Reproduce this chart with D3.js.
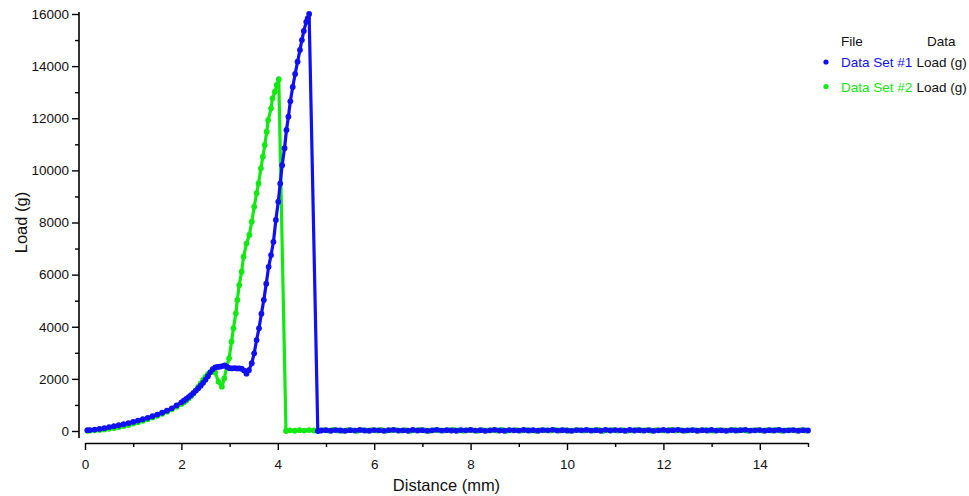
<!DOCTYPE html>
<meta charset="utf-8">
<script src="https://d3js.org/d3.v7.min.js"></script>
<style>
  body { margin: 0; background: #fff; }
  text { font-family: "Liberation Sans", Arial, sans-serif; }
</style>
<div id="my_dataviz"></div>
<script>
  // Data Set #1 (blue): [distance (mm), load (g)]
  var set1 = [
    [0.05,30],[0.1,35],[0.2,55],[0.3,80],[0.4,110],[0.5,150],[0.6,185],[0.7,220],[0.8,260],[0.9,305],
    [1.0,350],[1.1,400],[1.2,450],[1.3,505],[1.4,565],[1.5,630],[1.6,700],[1.7,780],[1.8,870],[1.9,980],
    [2.0,1100],[2.05,1160],[2.1,1230],[2.15,1300],[2.2,1380],[2.25,1460],[2.3,1550],[2.35,1640],[2.4,1740],
    [2.45,1850],[2.5,1970],[2.55,2100],[2.6,2250],[2.65,2370],[2.7,2440],[2.75,2460],[2.8,2470],[2.85,2490],
    [2.9,2520],[2.95,2460],[3.0,2410],[3.05,2400],[3.1,2410],[3.15,2400],[3.2,2400],[3.25,2390],[3.3,2320],
    [3.35,2200],[3.4,2330],[3.46,2600],[3.51,2980],[3.56,3490],[3.61,3940],[3.66,4500],[3.71,5030],[3.76,5650],
    [3.81,6300],[3.86,6750],[3.91,7260],[3.96,8100],[4.01,8800],[4.05,9500],[4.09,10200],[4.14,10850],
    [4.18,11550],[4.22,12060],[4.26,12650],[4.31,13200],[4.36,13700],[4.41,14170],[4.46,14620],[4.5,15000],
    [4.54,15350],[4.59,15700],[4.62,15830],[4.65,16000],
    [4.83,0],[4.9,20],[5.0,30],[5.1,10],[5.2,35],[5.3,20],[5.4,5],[5.5,30],[5.6,15],[5.7,40],[5.8,20],[5.9,10],
    [6.0,35],[6.1,25],[6.2,5],[6.3,30],[6.4,45],[6.5,15],[6.6,25],[6.7,10],[6.8,40],[6.9,20],[7.0,30],[7.1,5],
    [7.2,25],[7.3,45],[7.4,15],[7.5,30],[7.6,20],[7.7,10],[7.8,35],[7.9,25],[8.0,40],[8.1,15],[8.2,30],[8.3,5],
    [8.4,25],[8.5,45],[8.6,20],[8.7,10],[8.8,35],[8.9,25],[9.0,15],[9.1,40],[9.2,20],[9.3,30],[9.4,10],[9.5,35],
    [9.6,25],[9.7,45],[9.8,15],[9.9,30],[10.0,20],[10.1,5],[10.2,35],[10.3,25],[10.4,40],[10.5,15],[10.6,30],
    [10.7,10],[10.8,45],[10.9,20],[11.0,35],[11.1,25],[11.2,10],[11.3,40],[11.4,20],[11.5,30],[11.6,15],[11.7,35],
    [11.8,5],[11.9,25],[12.0,40],[12.1,20],[12.2,30],[12.3,45],[12.4,15],[12.5,25],[12.6,35],[12.7,10],[12.8,30],
    [12.9,20],[13.0,40],[13.1,15],[13.2,25],[13.3,5],[13.4,35],[13.5,20],[13.6,30],[13.7,45],[13.8,15],[13.9,25],
    [14.0,35],[14.1,10],[14.2,30],[14.3,20],[14.4,40],[14.5,15],[14.6,25],[14.7,35],[14.8,10],[14.9,30],[15.0,20]
  ];

  // Data Set #2 (green): [distance (mm), load (g)]
  var set2 = [
    [0.05,10],[0.1,15],[0.2,25],[0.3,40],[0.4,60],[0.5,85],[0.6,115],[0.7,150],[0.8,190],[0.9,235],
    [1.0,285],[1.1,335],[1.2,390],[1.3,450],[1.4,515],[1.5,585],[1.6,660],[1.7,740],[1.8,830],[1.9,930],
    [2.0,1040],[2.05,1100],[2.1,1170],[2.15,1250],[2.2,1340],[2.25,1440],[2.3,1560],[2.35,1690],[2.4,1830],
    [2.45,1960],[2.5,2080],[2.55,2180],[2.6,2260],[2.65,2320],[2.7,2250],[2.77,1890],[2.84,1700],[2.89,2020],
    [2.94,2470],[2.99,2790],[3.04,3430],[3.08,3940],[3.13,4515],[3.16,5030],[3.2,5600],[3.25,6110],[3.29,6690],
    [3.35,7190],[3.41,7520],[3.46,8030],[3.51,8605],[3.56,9120],[3.6,9500],[3.65,10080],[3.69,10525],
    [3.73,10975],[3.77,11485],[3.8,11930],[3.86,12380],[3.89,12765],[3.94,13020],[3.98,13275],[4.02,13500],
    [4.17,0],[4.25,25],[4.35,10],[4.45,30],[4.55,15],[4.65,35],[4.75,20],[4.85,5],[4.95,30],[5.05,15],[5.15,40],
    [5.25,20],[5.35,10],[5.45,30],[5.55,25],[5.65,5],[5.75,35],[5.85,15],[5.95,30],[6.05,20],[6.15,40],[6.25,10],
    [6.35,25],[6.45,35],[6.55,15],[6.65,30],[6.75,5],[6.85,25],[6.95,40],[7.05,20],[7.15,10],[7.25,35],[7.35,25],
    [7.45,15],[7.55,30],[7.65,45],[7.75,20],[7.85,10],[7.95,30],[8.05,25],[8.15,5],[8.25,35],[8.35,15],[8.45,30],
    [8.55,20],[8.65,40],[8.75,10],[8.85,25],[8.95,35],[9.05,15],[9.15,30],[9.25,20],[9.35,5],[9.45,35],[9.55,25],
    [9.65,15],[9.75,40],[9.85,20],[9.95,30],[10.05,10],[10.15,25],[10.25,35],[10.35,15],[10.45,30],[10.55,20],
    [10.65,45],[10.75,10],[10.85,25],[10.95,35],[11.05,15],[11.15,30],[11.25,5],[11.35,25],[11.45,40],[11.55,20],
    [11.65,30],[11.75,10],[11.85,35],[11.95,25],[12.05,15],[12.15,40],[12.25,20],[12.35,30],[12.45,10],[12.55,25],
    [12.65,35],[12.75,15],[12.85,30],[12.95,20],[13.05,5],[13.15,35],[13.25,25],[13.35,15],[13.45,40],[13.55,20],
    [13.65,30],[13.75,10],[13.85,25],[13.95,35],[14.05,15],[14.15,30],[14.25,20],[14.35,40],[14.45,10],[14.55,25],
    [14.65,35],[14.75,15],[14.85,30],[14.95,20]
  ];

  var xTicks = [0, 2, 4, 6, 8, 10, 12, 14];
  var xMinorTicks = [1, 3, 5, 7, 9, 11, 13, 15];
  var yTicks = [0, 2000, 4000, 6000, 8000, 10000, 12000, 14000, 16000];
  var yMinorTicks = [1000, 3000, 5000, 7000, 9000, 11000, 13000, 15000];
  var seriesNames = ["Data Set #1", "Data Set #2"];
  var seriesData = ["Load (g)", "Load (g)"];
  var seriesColors = ["#1010f2", "#12e812"];

  var W = 969, H = 496;
  var svg = d3.select("#my_dataviz").append("svg").attr("width", W).attr("height", H);

  var x = d3.scaleLinear().domain([0, 15]).range([85, 808]);
  var y = d3.scaleLinear().domain([0, 16000]).range([431, 14]);

  // X axis (bottom, detached from the y axis)
  var xg = svg.append("g").attr("transform", "translate(0,443)")
    .call(d3.axisBottom(x).tickValues(xTicks).tickSize(7).tickPadding(9).tickSizeOuter(0).tickFormat(d3.format("d")));
  svg.append("g").attr("transform", "translate(0,443)")
    .call(d3.axisBottom(x).tickValues(xMinorTicks).tickSize(4).tickSizeOuter(0).tickFormat(""))
    .select(".domain").remove();

  // Y axis
  var yg = svg.append("g").attr("transform", "translate(79,0)")
    .call(d3.axisLeft(y).tickValues(yTicks).tickSize(7).tickPadding(3).tickSizeOuter(0).tickFormat(d3.format("d")));
  yg.select(".domain").remove();
  svg.append("g").attr("transform", "translate(79,0)")
    .call(d3.axisLeft(y).tickValues(yMinorTicks).tickSize(4).tickSizeOuter(0).tickFormat(""))
    .select(".domain").remove();
  svg.append("line").attr("x1", 79).attr("x2", 79).attr("y1", 12).attr("y2", 438)
    .attr("stroke", "#000").attr("stroke-width", 1.6);

  svg.selectAll(".tick line").attr("stroke", "#000").attr("stroke-width", 1.4);
  xg.select(".domain").attr("stroke", "#000").attr("stroke-width", 1.6);
  svg.selectAll(".tick text").style("font-size", "13.5px").attr("fill", "#111")
    .style("font-family", "'Liberation Sans', Arial, sans-serif");

  // Axis titles
  svg.append("text").attr("x", 446.5).attr("y", 491).attr("text-anchor", "middle")
    .style("font-size", "16.5px").attr("fill", "#111").text("Distance (mm)");
  svg.append("text").attr("transform", "translate(27,222.5) rotate(-90)").attr("text-anchor", "middle")
    .style("font-size", "16.5px").attr("fill", "#111").text("Load (g)");

  // Series: draw #2 first so #1 sits on top
  var line = d3.line().x(function(d) { return x(d[0]); }).y(function(d) { return y(d[1]); });
  var all = [set1, set2];
  [1, 0].forEach(function(i) {
    var g = svg.append("g");
    g.append("path").datum(all[i]).attr("d", line)
      .attr("fill", "none").attr("stroke", seriesColors[i]).attr("stroke-width", 3.2)
      .attr("stroke-linejoin", "round");
    g.selectAll("circle").data(all[i]).enter().append("circle")
      .attr("cx", function(d) { return x(d[0]); })
      .attr("cy", function(d) { return y(d[1]); })
      .attr("r", 2.9).attr("fill", seriesColors[i]);
  });

  // Legend
  var lg = svg.append("g").style("font-size", "13.5px");
  lg.append("text").attr("x", 841).attr("y", 46).attr("fill", "#111").text("File");
  lg.append("text").attr("x", 927).attr("y", 46).attr("fill", "#111").text("Data");
  seriesNames.forEach(function(name, i) {
    var yy = 67 + i * 24.5;
    lg.append("circle").attr("cx", 826).attr("cy", yy - 5).attr("r", 2.6).attr("fill", seriesColors[i]);
    lg.append("text").attr("x", 841).attr("y", yy).attr("fill", seriesColors[i]).text(name);
    lg.append("text").attr("x", 916.5).attr("y", yy).attr("fill", "#111").text(seriesData[i]);
  });
</script>
